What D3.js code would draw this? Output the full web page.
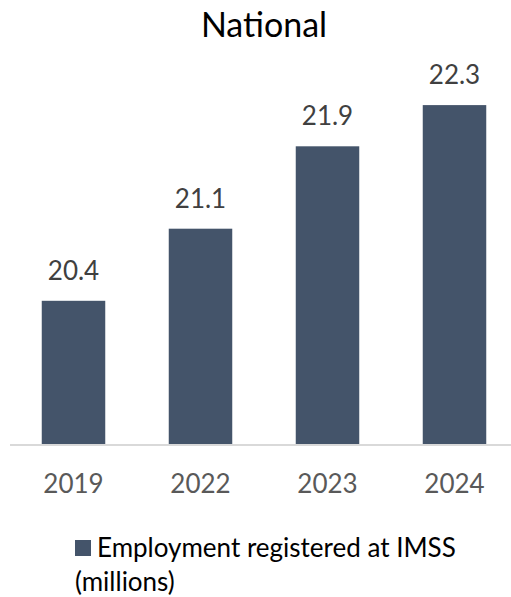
<!DOCTYPE html>
<html><head><meta charset="utf-8">
<script src="https://cdn.jsdelivr.net/npm/d3@7"></script>
<style>html,body{margin:0;padding:0;background:#fff;}svg{display:block;}</style>
</head><body>
<script>
const categories = ["2019", "2022", "2023", "2024"];
const values = [20.4, 21.1, 21.9, 22.3];
const title = "National";
const legendLabel = ["Employment registered at IMSS", "(millions)"];

const W = 511, H = 597;
const font = "Lato, 'Open Sans', sans-serif";
const barColor = "#44546A";
const svg = d3.select("body").append("svg").attr("width", W).attr("height", H);

const x = d3.scaleBand().domain(categories).range([10, 518]).paddingInner(0.5).paddingOuter(0.25);
const y = d3.scaleLinear().domain([19, 22.5]).range([445, 445 - 3.5 * 103]);

svg.append("text").attr("x", 264).attr("y", 37).attr("text-anchor", "middle")
  .attr("font-family", font).attr("font-size", 34).attr("fill", "#000").text(title);

svg.selectAll("rect.bar").data(values).join("rect").attr("class", "bar")
  .attr("x", (d, i) => x(categories[i])).attr("width", x.bandwidth())
  .attr("y", d => y(d)).attr("height", d => y(19) - y(d)).attr("fill", barColor);

svg.selectAll("text.val").data(values).join("text").attr("class", "val")
  .attr("x", (d, i) => x(categories[i]) + x.bandwidth() / 2).attr("y", d => y(d) - 21)
  .attr("text-anchor", "middle").attr("font-family", font).attr("font-size", 26)
  .attr("fill", "#404040").text(d => d.toFixed(1));

const xAxis = d3.axisBottom(x).tickSize(0);
const gx = svg.append("g").attr("transform", "translate(0,445)").call(xAxis);
gx.select(".domain").attr("stroke", "#D9D9D9").attr("stroke-width", 2).attr("d", "M10,0H511");
gx.selectAll("text").attr("font-family", font).attr("font-size", 26).attr("fill", "#595959")
  .attr("dy", null).attr("y", 48);

const lg = svg.append("g");
lg.append("rect").attr("x", 75).attr("y", 540).attr("width", 16).attr("height", 16).attr("fill", barColor);
lg.append("text").attr("x", 97).attr("y", 557).attr("font-family", font).attr("font-size", 26)
  .attr("fill", "#000").text(legendLabel[0]);
lg.append("text").attr("x", 75).attr("y", 591).attr("font-family", font).attr("font-size", 26)
  .attr("fill", "#000").text(legendLabel[1]);
</script>
</body></html>
